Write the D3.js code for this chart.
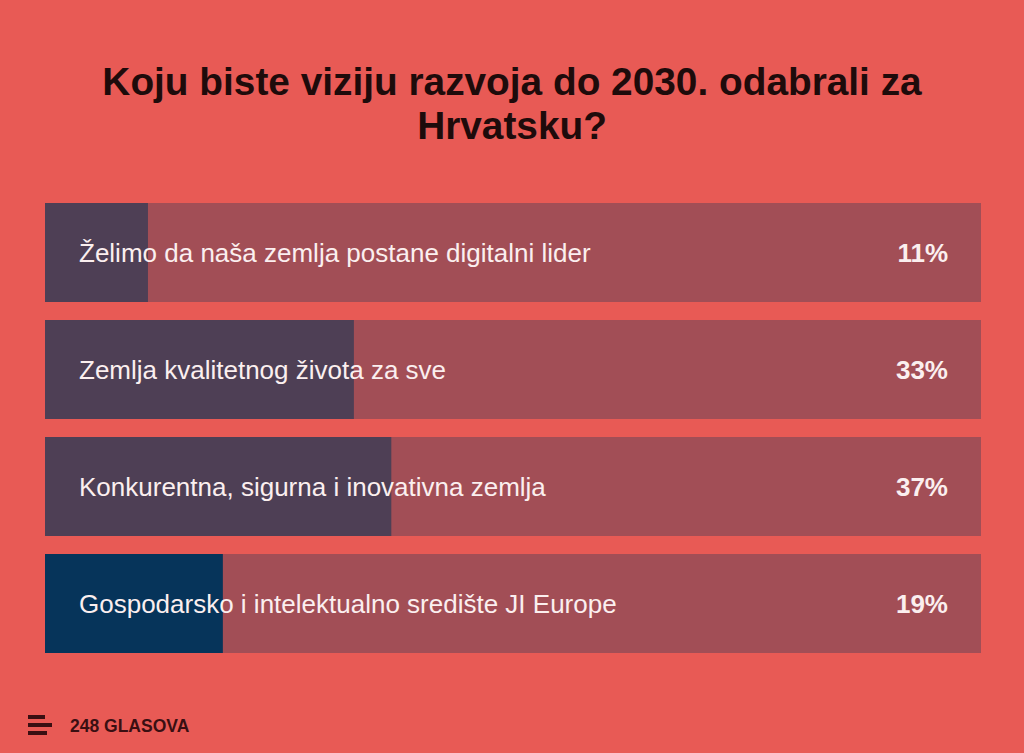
<!DOCTYPE html>
<html><head><meta charset="utf-8">
<script src="https://cdn.jsdelivr.net/npm/d3@7"></script>
<style>html,body{margin:0;padding:0;background:#E85A55;}svg{display:block;}</style>
</head><body>
<svg id="c" width="1024" height="753"></svg>
<script>
const categories = [
  "Želimo da naša zemlja postane digitalni lider",
  "Zemlja kvalitetnog života za sve",
  "Konkurentna, sigurna i inovativna zemlja",
  "Gospodarsko i intelektualno središte JI Europe"
];
const values = [11, 33, 37, 19];
const titleLines = ["Koju biste viziju razvoja do 2030. odabrali za", "Hrvatsku?"];
const votesLabel = "248 GLASOVA";

const svg = d3.select("#c");
const font = "'Liberation Sans', Arial, sans-serif";
svg.append("rect").attr("width",1024).attr("height",753).attr("fill","#E85A55");

svg.selectAll("text.title").data(titleLines).join("text")
  .attr("class","title").attr("x",512).attr("y",(d,i)=>95+i*44)
  .attr("text-anchor","middle").attr("font-family",font).attr("font-weight","bold")
  .attr("font-size",38.8).attr("fill","#1E0B0B").text(d=>d);

const x = d3.scaleLinear().domain([0,100]).range([45,981]);
const y = d3.scaleBand().domain(categories).range([203,653]).paddingInner(18/117).paddingOuter(0);

const g = svg.selectAll("g.bar").data(categories).join("g").attr("class","bar");
g.append("rect").attr("x",x(0)).attr("y",d=>y(d)).attr("width",x(100)-x(0)).attr("height",y.bandwidth())
  .attr("fill","#A24E56");
g.append("rect").attr("x",x(0)).attr("y",d=>y(d)).attr("width",(d,i)=>x(values[i])-x(0)).attr("height",y.bandwidth())
  .attr("fill",(d,i)=>i===3?"#06345A":"#4E3F55");
g.append("text").attr("x",79).attr("y",d=>y(d)+y.bandwidth()/2+9)
  .attr("font-family",font).attr("font-size",26).attr("fill","#FBEFEF").text(d=>d);
g.append("text").attr("x",948).attr("y",d=>y(d)+y.bandwidth()/2+9).attr("text-anchor","end")
  .attr("font-family",font).attr("font-weight","bold").attr("font-size",26).attr("fill","#FBEFEF")
  .text((d,i)=>values[i]+"%");

// footer icon
const icon = [[28,715,17],[28,723,24],[28,731,19]];
svg.selectAll("rect.icon").data(icon).join("rect").attr("class","icon")
  .attr("x",d=>d[0]).attr("y",d=>d[1]).attr("width",d=>d[2]).attr("height",4).attr("fill","#3A0F12");
svg.append("text").attr("x",70).attr("y",732).attr("font-family",font).attr("font-weight","bold")
  .attr("font-size",17.5).attr("fill","#3A0F12").text(votesLabel);
</script>
</body></html>
